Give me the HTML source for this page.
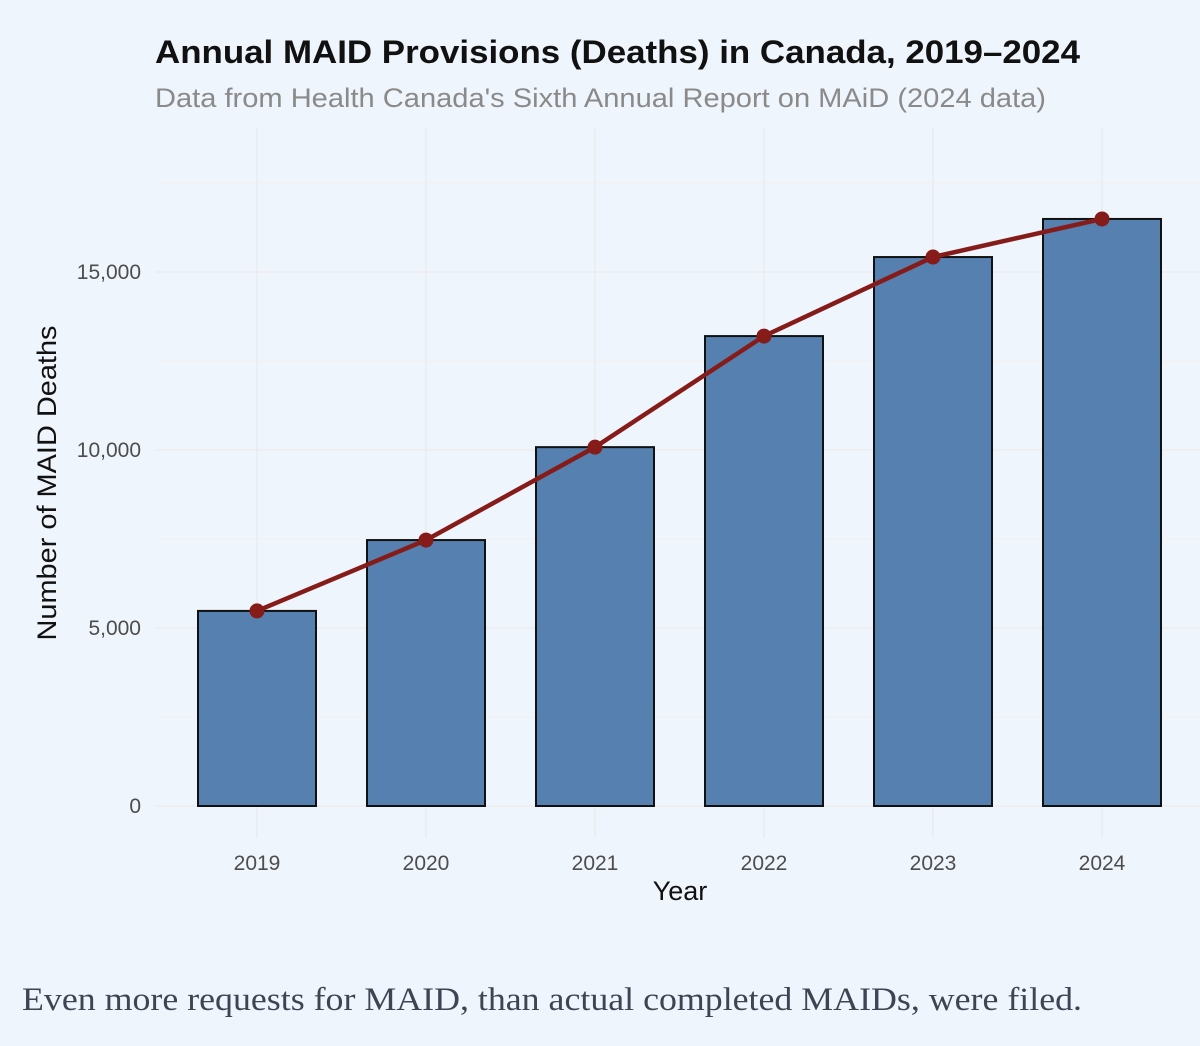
<!DOCTYPE html>
<html><head><meta charset="utf-8"><style>
body{margin:0;background:#eff5fc;width:1200px;height:1041px;overflow:hidden;}
svg text{font-family:"Liberation Sans",sans-serif;}
</style></head><body>
<svg width="1200" height="1041">
<rect width="1200" height="1041" fill="#eff5fc"/>
<text x="155" y="63" font-size="32" font-weight="bold" fill="#111" textLength="925" lengthAdjust="spacingAndGlyphs">Annual MAID Provisions (Deaths) in Canada, 2019–2024</text>
<text x="155" y="107" font-size="27" fill="#8a8a8a" textLength="891" lengthAdjust="spacingAndGlyphs">Data from Health Canada's Sixth Annual Report on MAiD (2024 data)</text>
<g id="grid"></g><g id="bars"></g><g id="line"></g><g id="axes"></g>
<text x="680" y="900" font-size="27" text-anchor="middle" fill="#111">Year</text>
<text transform="translate(56,483) rotate(-90)" font-size="27" text-anchor="middle" fill="#111" textLength="315" lengthAdjust="spacingAndGlyphs">Number of MAID Deaths</text>
<text x="22" y="1010" font-size="33" fill="#3d4452" textLength="1060" lengthAdjust="spacingAndGlyphs" style="font-family:'Liberation Serif',serif">Even more requests for MAID, than actual completed MAIDs, were filed.</text>
</svg>
<script>
const years=["2019","2020","2021","2022","2023","2024"];
const deaths=[5480,7470,10080,13200,15420,16490];
const yTicks=[0,5000,10000,15000];
const yTickLabels=["0","5,000","10,000","15,000"];
const NS="http://www.w3.org/2000/svg";
const y=v=>806-v*178/5000;
const x=i=>257+i*169;
function mk(p,t,a){const e=document.createElementNS(NS,t);for(const k in a)e.setAttribute(k,a[k]);p.appendChild(e);return e;}
const grid=document.getElementById('grid'),bars=document.getElementById('bars'),line=document.getElementById('line'),axes=document.getElementById('axes');
for(let v=0;v<=17500;v+=2500){
 const l=mk(grid,'line',{x1:155,x2:1200,y1:y(v),y2:y(v),stroke:v%5000?'#f1eff0':'#ebe9ea','stroke-width':v%5000?1:1.3});
 
 
}
years.forEach((yr,i)=>{
 const l=mk(grid,'line',{x1:x(i),x2:x(i),y1:128,y2:838,stroke:'#ebe9ea','stroke-width':1.3});
 
 
 const t=mk(axes,'text',{x:x(i),y:870,'font-size':21,'text-anchor':'middle',fill:'#4d4d4d'});t.textContent=yr;
 
 
 const b=mk(bars,'rect',{x:x(i)-59,y:y(deaths[i]),width:118,height:y(0)-y(deaths[i]),fill:'#5580b0',stroke:'#111','stroke-width':2});
 
 
});
yTicks.forEach((v,i)=>{
 const t=mk(axes,'text',{x:141,y:y(v)+7,'font-size':21,'text-anchor':'end',fill:'#4d4d4d'});t.textContent=yTickLabels[i];
 
 
});
const pl=mk(line,'polyline',{points:deaths.map((d,i)=>x(i)+','+y(d)).join(' '),fill:'none',stroke:'#861c1a','stroke-width':4.5});


deaths.forEach((d,i)=>{
 const c=mk(line,'circle',{cx:x(i),cy:y(d),r:7.5,fill:'#861c1a'});
 
 
});
</script>
</body></html>
